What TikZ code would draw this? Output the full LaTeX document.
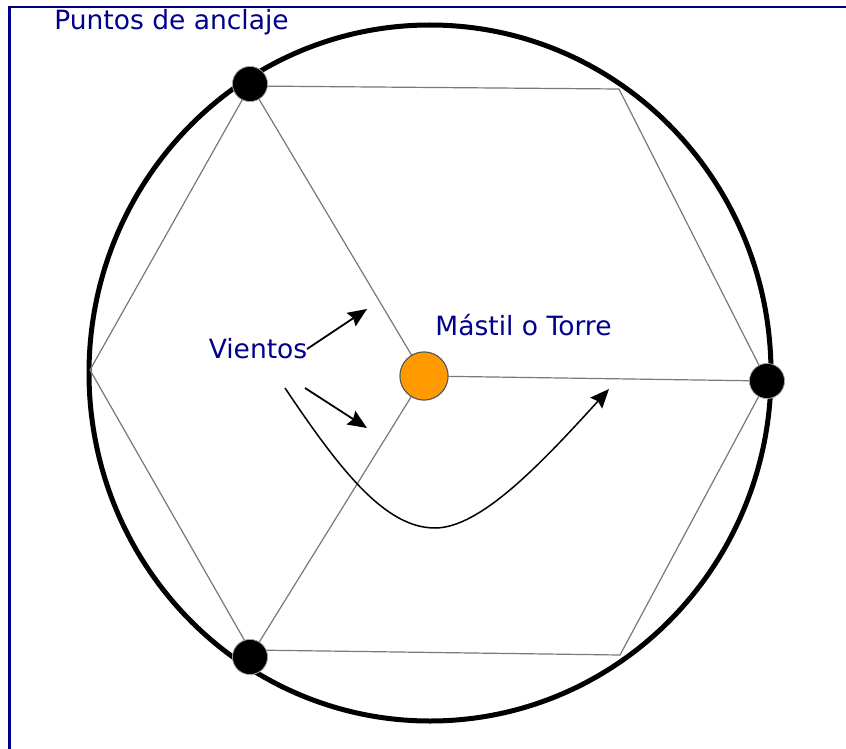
\documentclass[tikz,border=0pt]{standalone}
\usepackage{fontspec}
\setmainfont{DejaVu Sans}
\usetikzlibrary{arrows.meta}
\definecolor{navyt}{RGB}{0,0,140}
\definecolor{mastorange}{RGB}{255,153,0}
\definecolor{guy}{RGB}{120,120,120}
\tikzset{
  anchordot/.style={circle,fill=black,draw=black!30,line width=0.6pt,minimum size=35pt,inner sep=0pt},
  mastdot/.style={circle,fill=mastorange,draw=black!65,line width=1pt,minimum size=48pt,inner sep=0pt},
  guyline/.style={draw=guy,line width=1.2pt},
  lbl/.style={text=navyt,font=\fontsize{26.5}{30}\selectfont,inner sep=0pt},
  windarrow/.style={draw=black,line width=1.8pt,-{Stealth[length=19pt,width=16pt,inset=2.5pt]}},
  ring/.style={draw=black,line width=5pt},
  frame/.style={draw=navyt,line width=2.2pt}
}
\begin{document}
\begin{tikzpicture}[x=1pt,y=-1pt]
\useasboundingbox (0,0) rectangle (846,749);
\clip (0,0) rectangle (846,749);
\fill[white] (0,0) rectangle (846,749);
% frame
\draw[frame] (9.5,760) -- (9.5,7) -- (860,7);
% ring
\draw[ring] (430,373) ellipse [x radius=341, y radius=348];
% hexagon vertices
\coordinate (h1) at (250,86);
\coordinate (h2) at (619,89);
\coordinate (h3) at (767,381);
\coordinate (h4) at (620,655);
\coordinate (h5) at (250,650);
\coordinate (h6) at (90,370);
% nodes
\node[mastdot] (mast) at (424,376) {};
\node[anchordot] (a1) at (250,84) {};
\node[anchordot] (a2) at (767,381) {};
\node[anchordot] (a3) at (250,657) {};
% guy lines
\path[guyline] (h1) -- (h2) -- (h3) -- (h4) -- (h5) -- (h6) -- cycle;
\path[guyline] (mast) -- (a1);
\path[guyline] (mast) -- (a2);
\path[guyline] (mast) -- (a3);
% redraw dots on top
\node[mastdot] at (mast) {};
\node[anchordot] at (a1) {};
\node[anchordot] at (a2) {};
\node[anchordot] at (a3) {};
% labels
\node[lbl] (puntos) at (171.5,22) {Puntos de anclaje};
\node[lbl] (mastil) at (523.5,325) {Mástil o Torre};
\node[lbl] (vientos) at (258,349) {Vientos};
% wind arrows
\coordinate (w1s) at (307,349);
\coordinate (w1e) at (367,309);
\coordinate (w2s) at (305,388);
\coordinate (w2e) at (367,428);
\coordinate (cs) at (285,388);
\coordinate (cm) at (435,528);
\coordinate (ce) at (609,389);
\draw[windarrow] (w1s) -- (w1e);
\draw[windarrow] (w2s) -- (w2e);
\draw[windarrow,line width=1.5pt] (cs) .. controls (340,470) and (385,528) .. (cm) .. controls (480,528) and (540,465) .. (ce);
\end{tikzpicture}
\end{document}
